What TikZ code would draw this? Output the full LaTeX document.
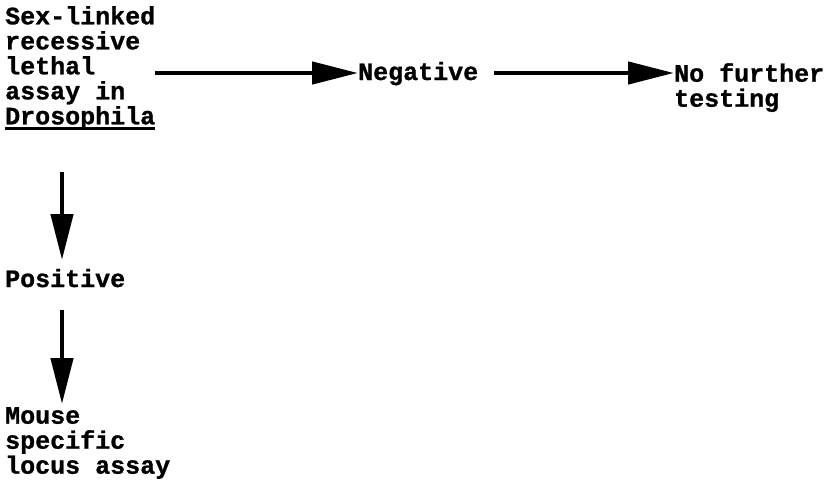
\documentclass[tikz,border=0pt]{standalone}
\usepackage{fontspec}
\setmonofont{Liberation Mono}[BoldFeatures={FakeBold=1}]
\usetikzlibrary{arrows.meta,calc}
\newcommand\myul[1]{\setbox0\hbox{#1}\rlap{\rule[-6pt]{\wd0}{3.5pt}}\box0}
\begin{document}
\begin{tikzpicture}[x=1pt,y=-1pt,
  lbl/.style={font=\fontsize{25}{25}\selectfont\ttfamily\bfseries, align=left, inner sep=0pt},
  arr/.style={line width=4.5pt, -{Triangle[length=46pt,width=22pt]}}]
\useasboundingbox (0,0) rectangle (827,485);
\node[lbl, anchor=north west] (src) at (5,6) {Sex-linked\\recessive\\lethal\\assay in\\\myul{Drosophila}};
\node[lbl, anchor=base west] (neg) at (358,80) {Negative};
\node[lbl, anchor=north west] (nft) at (674,63) {No further\\testing};
\node[lbl, anchor=base west] (pos) at (5,287) {Positive};
\node[lbl, anchor=north west] (mouse) at (5,407) {Mouse\\specific\\locus assay};
\draw[arr] (src.east |- 0,73) -- (neg.west |- 0,73);
\draw[arr] ([xshift=16pt]neg.east |- 0,73) -- (nft.west |- 0,73);
\draw[arr] (62,172) -- (62,260);
\draw[arr] (62,310) -- (62,404);
\end{tikzpicture}
\end{document}
